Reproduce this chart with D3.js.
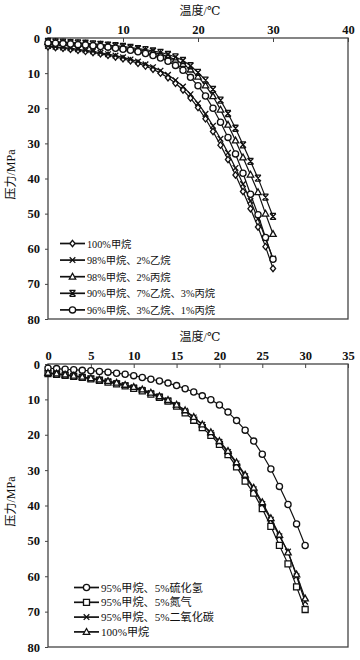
<!DOCTYPE html>
<html><head><meta charset="utf-8">
<script src="https://cdn.jsdelivr.net/npm/d3@7"></script>
<style>
body{margin:0;background:#fff}svg{display:block}
text{font-family:"Liberation Serif","Times New Roman","DejaVu Serif","Noto Sans CJK SC",serif;fill:#111}
.tick text{font-weight:bold;font-size:12.5px}
</style>
</head><body><svg id="c" width="360" height="660"></svg>
<script>
// ---------- DATA ----------
const temps = [0,1,2,3,4,5,6,7,8,9,10,11,12,13,14,15,16,17,18,19,20,21,22,23,24,25,26,27,28,29,30];

// top chart
const topXTicks = [0,10,20,30,40];
const topYTicks = [0,10,20,30,40,50,60,70,80];
const topNames = ["100%甲烷","98%甲烷、2%乙烷","98%甲烷、2%丙烷","90%甲烷、7%乙烷、3%丙烷","96%甲烷、3%乙烷、1%丙烷"];
const topShapes = ["diamond","cross","triangle","bowtie","circle"];
const topMethane = [2.5,2.7,2.9,3.2,3.5,3.8,4.1,4.5,4.9,5.4,5.9,6.5,7.2,8.0,8.9,10.0,11.3,12.9,14.8,17.1,19.8,23.0,26.6,30.5,34.6,39.0,43.7,48.6,53.8,59.4,65.6];
const topEthane2 = [2.3,2.5,2.7,2.9,3.2,3.5,3.8,4.2,4.6,5.0,5.5,6.1,6.7,7.5,8.3,9.3,10.5,12.0,13.8,16.0,18.6,21.6,25.0,28.7,32.7,37.0,41.6,46.4,51.5,57.0,62.8];
const topPropane2 = [1.2,1.3,1.4,1.5,1.6,1.7,1.9,2.0,2.2,2.4,2.7,3.0,3.3,3.7,4.1,4.6,5.3,6.2,7.4,9.0,11.0,13.5,16.6,20.4,24.7,29.2,34.0,38.9,43.9,50.0,55.8];
const topMix90 = [1.0,1.1,1.2,1.3,1.4,1.5,1.7,1.8,2.0,2.2,2.4,2.7,3.0,3.3,3.7,4.1,4.7,5.4,6.4,7.9,9.8,12.0,14.6,17.7,21.5,25.7,30.4,35.1,39.9,45.3,50.8];
const topMix96 = [1.4,1.5,1.6,1.7,1.9,2.0,2.2,2.4,2.6,2.9,3.2,3.5,3.9,4.4,5.0,5.7,6.6,7.8,9.2,11.2,13.6,16.5,20.0,24.0,28.3,33.0,38.5,44.5,50.3,56.8,63.0];

// bottom chart
const botXTicks = [0,5,10,15,20,25,30,35];
const botYTicks = [0,10,20,30,40,50,60,70,80];
const botNames = ["95%甲烷、5%硫化氢","95%甲烷、5%氮气","95%甲烷、5%二氧化碳","100%甲烷"];
const botShapes = ["circle","square","cross","triangle"];
const botH2S = [1.2,1.3,1.5,1.6,1.8,1.9,2.1,2.3,2.6,2.9,3.3,3.8,4.3,4.8,5.4,6.1,7.0,7.9,9.0,10.1,11.6,13.6,16.0,18.7,21.8,25.5,29.7,34.6,39.7,45.2,51.3];
const botN2 = [2.7,2.9,3.2,3.5,3.8,4.2,4.6,5.1,5.6,6.2,6.9,7.6,8.5,9.4,10.5,11.9,13.8,15.9,18.0,20.2,22.7,25.6,29.1,33.1,36.5,40.9,45.9,51.3,56.5,63.0,69.4];
const botCO2 = [2.6,2.8,3.1,3.4,3.7,4.1,4.5,4.9,5.4,6.0,6.6,7.3,8.2,9.2,10.3,11.6,13.2,15.1,17.2,19.5,22.0,24.9,28.1,31.7,35.4,39.6,44.0,48.7,53.0,60.0,67.2];
const botMethane = [2.5,2.7,3.0,3.3,3.6,4.0,4.4,4.8,5.3,5.9,6.5,7.2,8.1,9.1,10.2,11.5,13.1,15.0,17.1,19.3,21.8,24.6,27.8,31.3,35.0,39.1,43.6,48.3,53.3,59.5,66.3];

const xTitle = "温度/℃";
const yTitle = "压力/MPa";

// ---------- DRAW ----------
const svg = d3.select("#c");

const shapePath = {
  diamond: "M0,-3.2L2.6,0L0,3.2L-2.6,0Z",
  cross: "M-2.8,-2.8L2.8,2.8M-2.8,2.8L2.8,-2.8",
  triangle: "M0,-3.4L3.2,2.4L-3.2,2.4Z",
  bowtie: "M-3,-3L3,3M-3,3L3,-3M-3,-3H3M-3,3H3",
  square: "M-3,-3H3V3H-3Z"
};

function drawMarker(g, shape, x, y) {
  if (shape === "circle") {
    g.append("circle").attr("cx", x).attr("cy", y).attr("r", 3.1)
      .attr("fill", "#fff").attr("stroke", "#111").attr("stroke-width", 1.3);
  } else {
    const filled = (shape === "diamond" || shape === "triangle" || shape === "square");
    g.append("path").attr("d", shapePath[shape])
      .attr("transform", `translate(${x},${y})`)
      .attr("fill", filled ? "#fff" : "none")
      .attr("stroke", "#111").attr("stroke-width", 1.3);
  }
}

function chart(cfg) {
  const x = d3.scaleLinear().domain(cfg.xDomain).range([cfg.left, cfg.right]);
  const y = d3.scaleLinear().domain([0, 80]).range([cfg.top, cfg.bottom]);
  const g = svg.append("g");

  g.append("rect").attr("x", cfg.left).attr("y", cfg.top)
    .attr("width", cfg.right - cfg.left).attr("height", cfg.bottom - cfg.top)
    .attr("fill", "none").attr("stroke", "#444").attr("stroke-width", 1.3);

  const ax = g.append("g").attr("transform", `translate(0,${cfg.top})`)
    .call(d3.axisTop(x).tickValues(cfg.xTicks).tickSizeInner(-4).tickSizeOuter(0).tickPadding(4));
  ax.select(".domain").remove();
  ax.selectAll("line").attr("stroke", "#444");

  const ay = g.append("g").attr("transform", `translate(${cfg.left},0)`)
    .call(d3.axisLeft(y).tickValues(cfg.yTicks).tickSize(3).tickPadding(5));
  ay.select(".domain").remove();
  ay.selectAll("line").attr("stroke", "#444");
  ax.attr("font-family", null).attr("font-size", null);
  ay.attr("font-family", null).attr("font-size", null);

  g.append("text").attr("x", (cfg.left + cfg.right) / 2 + 2).attr("y", cfg.top - 23)
    .attr("text-anchor", "middle").style("font-size", "12px").text(xTitle);
  g.append("text").attr("transform", `translate(15,${(cfg.top + cfg.bottom) / 2 - 4}) rotate(-90)`)
    .attr("text-anchor", "middle").style("font-size", "12px").text(yTitle);

  const line = d3.line().x(d => x(d[0])).y(d => y(d[1]));
  cfg.series.forEach(s => {
    const pts = temps.map((t, k) => [t, s.values[k]]);
    const sg = g.append("g");
    sg.append("path").attr("d", line(pts)).attr("fill", "none")
      .attr("stroke", "#111").attr("stroke-width", 1.2);
    pts.forEach(p => drawMarker(sg, s.shape, x(p[0]), y(p[1])));
  });

  // legend: font size fitted so the longest label spans the reference width
  const labels = [];
  cfg.series.forEach((s, i) => {
    const ly = cfg.legY + i * cfg.legStep;
    g.append("line").attr("x1", cfg.legX).attr("x2", cfg.legX + 25)
      .attr("y1", ly).attr("y2", ly).attr("stroke", "#111").attr("stroke-width", 1.7);
    drawMarker(g, s.shape, cfg.legX + 12.5, ly);
    labels.push(g.append("text").attr("x", cfg.legX + 27).attr("y", ly + 4)
      .style("font-size", "12px").text(s.name));
  });
  const maxW = d3.max(labels, t => t.node().getComputedTextLength());
  const fs = Math.min(12.5, 12 * cfg.legWidth / maxW);
  labels.forEach(t => t.style("font-size", fs + "px"));
}

chart({
  left: 48, right: 348, top: 38, bottom: 319,
  xDomain: [0, 40], xTicks: topXTicks, yTicks: topYTicks,
  legX: 60, legY: 243.5, legStep: 16.6, legWidth: 128,
  series: [
    {name: topNames[0], shape: topShapes[0], values: topMethane},
    {name: topNames[1], shape: topShapes[1], values: topEthane2},
    {name: topNames[2], shape: topShapes[2], values: topPropane2},
    {name: topNames[3], shape: topShapes[3], values: topMix90},
    {name: topNames[4], shape: topShapes[4], values: topMix96}
  ]
});

chart({
  left: 48, right: 348, top: 364, bottom: 647,
  xDomain: [0, 35], xTicks: botXTicks, yTicks: botYTicks,
  legX: 74, legY: 587.5, legStep: 14.8, legWidth: 113,
  series: [
    {name: botNames[0], shape: botShapes[0], values: botH2S},
    {name: botNames[1], shape: botShapes[1], values: botN2},
    {name: botNames[2], shape: botShapes[2], values: botCO2},
    {name: botNames[3], shape: botShapes[3], values: botMethane}
  ]
});
</script></body></html>
